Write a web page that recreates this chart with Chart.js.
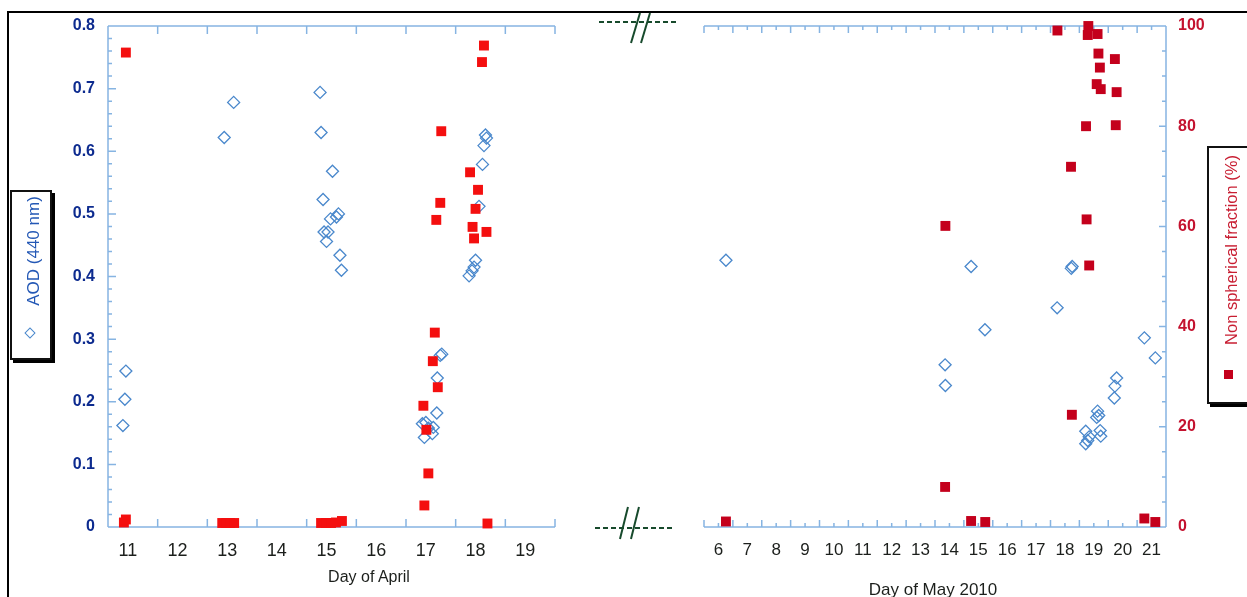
<!DOCTYPE html>
<html>
<head>
<meta charset="utf-8">
<script src="https://cdn.jsdelivr.net/npm/chart.js@4.4.0/dist/chart.umd.min.js"></script>
<style>
  body { margin: 0; background: #fff; width: 1247px; height: 597px; overflow: hidden; position: relative;
         font-family: "Liberation Sans", Arial, sans-serif; }
  canvas { position: absolute; top: 0; }
  #aprilChart { left: 0; }
  #mayChart { left: 600px; }
  .frame { position: absolute; left: 7px; top: 11px; width: 1260px; height: 600px;
           border-top: 2px solid #000; border-left: 2px solid #000; }
  .key { position: absolute; box-sizing: border-box; background: #fff; border: 2px solid #111;
         box-shadow: 3px 3px 0 #000; }
  .vtext { position: absolute; white-space: nowrap; transform: translate(-50%, -50%) rotate(-90deg); }
  .axis-title { position: absolute; white-space: nowrap; transform: translate(-50%, -50%); color: #1c1f1c; }
  .mark { position: absolute; box-sizing: border-box; }
</style>
</head>
<body>
<div class="frame"></div>
<canvas id="aprilChart" width="600" height="597"></canvas>
<canvas id="mayChart" width="647" height="597"></canvas>

<svg width="1247" height="597" style="position:absolute;left:0;top:0">
  <g stroke="#174a2c" stroke-width="2" fill="none">
    <line x1="599" y1="22" x2="677" y2="22" stroke-dasharray="5,3"/>
    <line x1="631" y1="43" x2="640" y2="13"/>
    <line x1="641" y1="43" x2="650" y2="13"/>
    <line x1="595" y1="528" x2="673" y2="528" stroke-dasharray="5,3"/>
    <line x1="620" y1="539" x2="628" y2="507"/>
    <line x1="631" y1="539" x2="639" y2="507"/>
  </g>
</svg>

<div class="key" style="left:10px;top:190px;width:42px;height:170px"></div>
<div class="vtext" style="left:34px;top:251px;font-size:17px;color:#2458b5">AOD (440 nm)</div>
<div class="mark" style="left:26px;top:329px;width:8px;height:8px;border:1.3px solid #4a88cc;transform:rotate(45deg)"></div>

<div class="key" style="left:1207px;top:146px;width:50px;height:258px"></div>
<div class="vtext" style="left:1231px;top:250px;font-size:16.5px;color:#c81e32">Non spherical fraction (%)</div>
<div class="mark" style="left:1224px;top:370px;width:9px;height:9px;background:#c4001c"></div>

<div class="axis-title" style="left:369px;top:577px;font-size:16px">Day of April</div>
<div class="axis-title" style="left:933px;top:590px;font-size:17px">Day of May 2010</div>

<script>
// tick labels
const aprilTicks = [11, 12, 13, 14, 15, 16, 17, 18, 19];
const mayTicks = [6, 7, 8, 9, 10, 11, 12, 13, 14, 15, 16, 17, 18, 19, 20, 21];
const aodTicks = [0, 0.1, 0.2, 0.3, 0.4, 0.5, 0.6, 0.7, 0.8];
const nsfTicks = [0, 20, 40, 60, 80, 100];

// April: AOD (440 nm)
const aprilAodDays = [10.86, 10.84, 10.80, 12.84, 13.03,
  14.77, 14.79, 15.02, 14.83, 15.14, 15.10, 14.98, 14.85, 14.93, 14.90, 15.17, 15.20,
  17.22, 17.19, 17.13, 17.12, 16.90, 16.83, 17.05, 16.95, 17.03, 16.87,
  18.10, 18.12, 18.07, 18.04, 17.97, 17.90, 17.87, 17.83, 17.77];
const aprilAod = [0.249, 0.204, 0.162, 0.622, 0.678,
  0.694, 0.630, 0.568, 0.523, 0.500, 0.495, 0.492, 0.471, 0.471, 0.456, 0.434, 0.410,
  0.276, 0.274, 0.238, 0.182, 0.167, 0.165, 0.159, 0.158, 0.149, 0.143,
  0.626, 0.621, 0.609, 0.579, 0.512, 0.426, 0.415, 0.409, 0.401];

// April: non spherical fraction (%)
const aprilNsfDays = [10.86, 10.82, 10.86,
  12.80, 12.88, 12.96, 13.04,
  14.79, 14.89, 14.99, 15.09, 15.21,
  16.87, 16.95, 16.91, 16.85, 17.14, 17.04, 17.08,
  17.84, 17.87, 18.12, 17.11, 17.90, 17.19, 17.95, 17.79, 17.21, 18.03, 18.07, 18.14];
const aprilNsf = [94.7, 0.9, 1.5,
  0.8, 0.8, 0.8, 0.8,
  0.8, 0.8, 0.8, 0.9, 1.2,
  4.3, 10.7, 19.4, 24.2, 27.9, 33.1, 38.8,
  59.9, 57.6, 58.9, 61.3, 63.5, 64.7, 67.3, 70.8, 79.0, 92.8, 96.1, 0.7];

// May: AOD (440 nm)
const mayAodDays = [6.26, 13.85, 13.86, 14.75, 15.23, 17.73, 18.22, 18.25,
  18.72, 18.84, 18.79, 18.72, 19.13, 19.17, 19.10, 19.22, 19.24,
  19.79, 19.73, 19.71, 20.75, 21.13];
const mayAod = [0.426, 0.259, 0.226, 0.416, 0.315, 0.350, 0.413, 0.416,
  0.153, 0.144, 0.138, 0.133, 0.185, 0.178, 0.175, 0.154, 0.145,
  0.238, 0.225, 0.206, 0.302, 0.270];

// May: non spherical fraction (%)
const mayNsfDays = [6.26, 13.85, 13.86, 14.75, 15.24, 17.74, 18.21, 18.24,
  18.73, 18.75, 18.84, 18.79, 18.81, 19.10, 19.13, 19.16, 19.21, 19.24,
  19.73, 19.76, 19.79, 20.75, 21.13];
const mayNsf = [1.1, 8.0, 60.1, 1.2, 1.0, 99.1, 71.9, 22.4,
  80.0, 61.4, 52.2, 98.2, 100, 88.4, 98.4, 94.5, 91.7, 87.4,
  93.4, 80.2, 86.8, 1.7, 1.0];

const AXIS = "#86b4e2";
const BLUE = "#4a88cc";
const FONT = "'Liberation Sans', Arial, sans-serif";

const pts = (xs, ys) => xs.map((x, i) => ({ x, y: ys[i] }));

// axis lines with inward tick marks, drawn on the library's scales
const framePlugin = {
  id: "frame",
  beforeDatasetsDraw(chart, args, o) {
    const { ctx, chartArea: a } = chart;
    const xs = chart.scales.x;
    const ys = chart.scales[o.yAxis];
    const edge = o.side === "left" ? a.left : a.right;
    const dir = o.side === "left" ? 1 : -1;
    ctx.save();
    ctx.strokeStyle = AXIS;
    ctx.lineWidth = 1.5;
    ctx.beginPath();
    ctx.moveTo(a.left, a.top); ctx.lineTo(a.right, a.top);
    ctx.moveTo(a.left, a.bottom); ctx.lineTo(a.right, a.bottom);
    ctx.moveTo(edge, a.top); ctx.lineTo(edge, a.bottom);
    const xTick = (v, len) => {
      const p = xs.getPixelForValue(v);
      ctx.moveTo(p, a.bottom); ctx.lineTo(p, a.bottom - len);
      ctx.moveTo(p, a.top); ctx.lineTo(p, a.top + len);
    };
    const nx = Math.round((xs.max - xs.min) / o.xStep);
    for (let i = 0; i <= nx; i++) {
      xTick(xs.min + i * o.xStep, o.majorLen);
      if (o.xMinor && i < nx) xTick(xs.min + i * o.xStep + o.xStep / 2, o.minorLen);
    }
    const ny = Math.round((ys.max - ys.min) / o.yMinor);
    const every = Math.round(o.yMajor / o.yMinor);
    for (let i = 0; i <= ny; i++) {
      const p = ys.getPixelForValue(ys.min + i * o.yMinor);
      const len = i % every === 0 ? o.majorLen : o.minorLen;
      ctx.moveTo(edge, p); ctx.lineTo(edge + dir * len, p);
    }
    ctx.stroke();
    ctx.restore();
  }
};

function xScale(min, max, labels, size, offset) {
  return {
    type: "linear", min, max,
    afterBuildTicks: (s) => { s.ticks = labels.map((v) => ({ value: v })); },
    afterFit: (s) => { s.height = 70; },
    grid: { display: false, drawTicks: false },
    border: { display: false },
    ticks: { autoSkip: false, maxRotation: 0, padding: 13, labelOffset: offset,
             color: "#1c1f1c", font: { family: FONT, size } }
  };
}

function yScale(pos, shown, min, max, labels, color, fmt, width, pad) {
  return {
    type: "linear", position: pos, display: shown, min, max,
    afterBuildTicks: (s) => { s.ticks = labels.map((v) => ({ value: v })); },
    afterFit: (s) => { s.width = shown ? width : 0; },
    grid: { display: false, drawTicks: false },
    border: { display: false },
    ticks: { padding: pad, color, callback: fmt, font: { family: FONT, size: 16, weight: "bold" } }
  };
}

const aodFmt = (v) => (v === 0 ? "0" : v.toFixed(1));
const nsfFmt = (v) => String(v);

function makeChart(id, o) {
  return new Chart(document.getElementById(id), {
    type: "scatter",
    data: {
      datasets: [
        {
          label: "Non spherical fraction (%)",
          data: o.nsf, yAxisID: "y2", order: 0, clip: false,
          pointStyle: "rect", pointRadius: 7, borderWidth: 0,
          backgroundColor: o.red, borderColor: o.red
        },
        {
          label: "AOD (440 nm)",
          data: o.aod, yAxisID: "y", order: 1, clip: false,
          pointStyle: "rectRot", pointRadius: 6, borderWidth: 1.3,
          backgroundColor: "rgba(0,0,0,0)", borderColor: BLUE
        }
      ]
    },
    options: {
      responsive: false,
      animation: false,
      events: [],
      layout: { padding: o.padding },
      plugins: { legend: { display: false }, tooltip: { enabled: false }, frame: o.frame },
      scales: {
        x: o.x,
        y: yScale("left", o.side === "left", 0, 0.8, aodTicks, "#0d2b8f", aodFmt, 108, 13),
        y2: yScale("right", o.side === "right", 0, 100, nsfTicks, "#c4122f", nsfFmt, 81, 12)
      }
    },
    plugins: [framePlugin]
  });
}

makeChart("aprilChart", {
  side: "left",
  red: "#f40f0f",
  aod: pts(aprilAodDays, aprilAod),
  nsf: pts(aprilNsfDays, aprilNsf),
  padding: { top: 26, right: 45, left: 0, bottom: 0 },
  x: xScale(10.5, 19.5, aprilTicks, 18, -5),
  frame: { side: "left", yAxis: "y", xStep: 1, xMinor: false, yMajor: 0.1, yMinor: 0.02, majorLen: 8, minorLen: 4 }
});

makeChart("mayChart", {
  side: "right",
  red: "#c4001c",
  aod: pts(mayAodDays, mayAod),
  nsf: pts(mayNsfDays, mayNsf),
  padding: { top: 26, right: 0, left: 104, bottom: 0 },
  x: xScale(5.5, 21.5, mayTicks, 17, 0),
  frame: { side: "right", yAxis: "y2", xStep: 1, xMinor: true, yMajor: 20, yMinor: 5, majorLen: 7, minorLen: 4 }
});
</script>
</body>
</html>
